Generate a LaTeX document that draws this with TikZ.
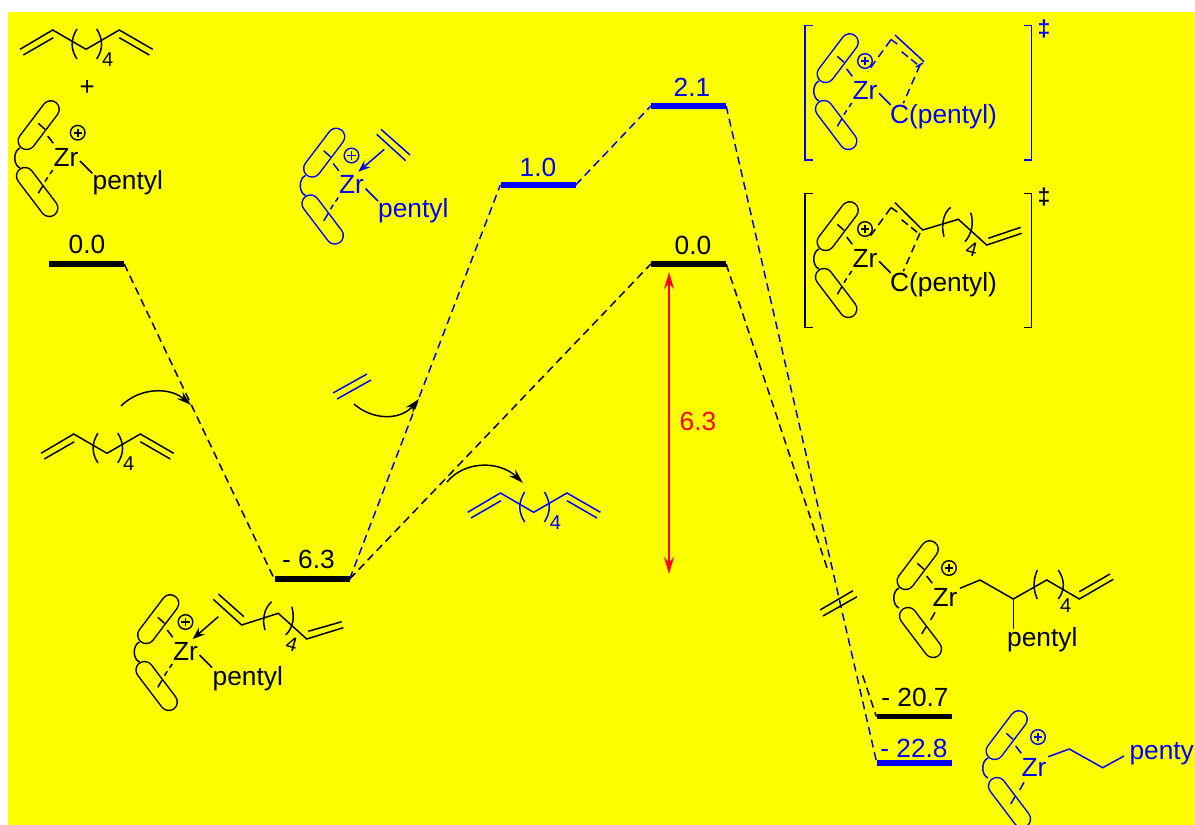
\documentclass[tikz,border=0pt]{standalone}
\usepackage{fontspec}
\setmainfont{Liberation Sans}
\usetikzlibrary{arrows.meta,calc}
\definecolor{bg}{RGB}{255,255,0}
\definecolor{bl}{RGB}{0,0,255}
\definecolor{rd}{RGB}{255,0,20}
\tikzset{
  bond/.style={line width=1.5pt,line join=miter},
  lab/.style={font=\fontsize{26.3}{30}\selectfont,inner sep=0pt,anchor=base},
  labw/.style={font=\fontsize{26.3}{30}\selectfont,inner sep=0pt,anchor=base west},
  sub/.style={font=\fontsize{20}{22}\selectfont,inner sep=0pt,anchor=base},
  level/.style={fill=#1,draw=none,inner sep=0pt,minimum width=75pt,minimum height=5.4pt},
  conn/.style={line width=1.5pt,dash pattern=on 8pt off 5pt},
  caps/.style={line width=1.5pt,line cap=round,double=bg,double distance=15.5pt},
  tip/.style={-{Stealth[length=12pt,width=9pt]}},
  curv/.style={line width=1.5pt,-{Stealth[length=15pt,width=9pt,inset=5pt]}},
  dag/.style={font=\bfseries\fontsize{23}{25}\selectfont,inner sep=0pt},
}
% name, x, y, colour, plus dx, plus dy
\newcommand{\zrunit}[6]{%
  \begin{scope}[shift={(#2,#3)},draw=#4,text=#4]
    \draw[bond] (-46,-8) .. controls (-53,-5) and (-53,9) .. (-46,12);
    \draw[caps] (-15.3,-46.7) -- (-39.3,-15);
    \draw[bond] (-27.7,-32.7) -- (-21,-26.7);
    \draw[bond] (-18.3,-20) -- (-12.7,-12.7);
    \node[lab] (#1) at (0,10) {Zr};
    \draw[#4,line width=1.4pt] (#5,#6) circle (7.3);
    \draw[#4,line width=1.9pt] ({#5-4.2},#6) -- ({#5+4.2},#6) ({#5},{#6-4.2}) -- ({#5},{#6+4.2});
  \end{scope}}
\newcommand{\lowerA}[3]{%
  \begin{scope}[shift={(#1,#2)},draw=#3]
    \draw[caps] (-41,20) -- (-16.7,52);
    \draw[bond] (-27.7,37.3) -- (-23.3,30);
    \draw[bond] (-21,25.7) -- (-18.3,21.3);
    \draw[bond] (-16,18) -- (-13.3,14);
  \end{scope}}
\newcommand{\lowerB}[3]{%
  \begin{scope}[shift={(#1,#2)},draw=#3]
    \draw[caps] (-37,20) -- (-12,53);
    \draw[bond] (-19,30.7) -- (-23.3,38);
    \draw[bond] (-10,16.3) -- (-14.3,24);
  \end{scope}}
% name, x, y, colour
\newcommand{\diene}[4]{%
  \begin{scope}[shift={(#2,#3)},draw=#4,text=#4]
    \draw[bond] (0,0) -- (32.7,-19.3) -- (66,0) -- (99.3,-19.3) -- (132.7,0);
    \draw[bond] (3.3,5.7) -- (33.3,-11.6);
    \draw[bond] (99.3,-11.6) -- (129.3,5.7);
    \draw[bond] (57,-20.3) .. controls (50.5,-10) and (50.5,0) .. (57,9.7);
    \draw[bond] (76.7,-20.3) .. controls (83.2,-10) and (83.2,0) .. (76.7,9.7);
    \node[sub] (#1) at (87.7,17) {4};
  \end{scope}}
\begin{document}
\begin{tikzpicture}[x=1pt,y=-1pt]
\useasboundingbox (0,0) rectangle (1195,825);
\clip (0,0) rectangle (1195,825);
\fill[white] (0,0) rectangle (1195,825);
\fill[bg] (8,12) rectangle (1195,825);

% levels
\node[level=black] (a0) at (86.5,264) {};
\node[level=black] (a1) at (312,579) {};
\node[level=bl] (b1) at (538,185) {};
\node[level=bl] (b2) at (688.5,106) {};
\node[level=black] (a2) at (688.5,264) {};
\node[level=black] (a3) at (914,716.5) {};
\node[level=bl] (b3) at (914.5,763) {};
\node[lab] (la0) at (87,253) {0.0};
\node[lab] (la1) at (308.5,568) {- 6.3};
\node[lab,text=bl] (lb1) at (538,176) {1.0};
\node[lab,text=bl] (lb2) at (692,96) {2.1};
\node[lab] (la2) at (693,254) {0.0};
\node[lab] (la3) at (915,706) {- 20.7};
\node[lab,text=bl] (lb3) at (914,757) {- 22.8};

% connectors
\draw[conn] (a0.east) -- (a1.west);
\draw[conn] (a1.east) -- (a2.west);
\draw[conn] (a2.east) -- ($(a2.east)!0.681!(a3.west)$);
\draw[conn] ($(a2.east)!0.909!(a3.west)$) -- (a3.west);
\draw[conn,bl] (a1.east) -- (b1.west);
\draw[conn,bl] (b1.east) -- (b2.west);
\draw[conn,bl] (b2.east) -- (b3.west);

% break mark
\draw[bond] (820,610) -- (853,590.7);
\draw[bond] (823,616) -- (857,596.7);

% red arrow
\coordinate (r1) at (669,272);
\coordinate (r2) at (669,574);
\draw[rd,line width=1.6pt,{Stealth[length=17pt,width=10pt]}-{Stealth[length=17pt,width=10pt]}] (r1) -- (r2);
\node[lab,text=rd] (l63) at (698,430) {6.3};

% curved arrows
\draw[curv] (121,406) .. controls (140,387) and (170,387) .. (191,405);
\draw[curv] (354,404) .. controls (372,420) and (400,421) .. (419,399);
\draw[curv] (447,482) .. controls (465,460) and (500,461) .. (523,483);

% top-left
\diene{d1}{20}{49.3}{black}
\node[font=\fontsize{26}{28}\selectfont,inner sep=0pt] (plus) at (87.3,88) {+};
\zrunit{z1}{66}{156}{black}{11.7}{-23.3}
\lowerA{66}{156}{black}
\draw[bond] (80,161) -- (92.3,173.3);
\node[labw] (p1) at (92.5,189) {pentyl};

% middle-left diene
\diene{d2}{41}{453.3}{black}

% ethylene blue
\draw[bond,bl] (333,393) -- (367,374);
\draw[bond,bl] (337,399) -- (371,380);

% blue diene
\diene{d3}{467.7}{512.3}{bl}

% middle blue complex
\zrunit{z2}{351.5}{183.5}{bl}{0}{-28}
\lowerA{351.5}{183.5}{bl}
\draw[bond,bl] (365.5,188.5) -- (378,201);
\node[labw,text=bl] (p2) at (378,217) {pentyl};
\draw[bond,bl] (381,129.3) -- (410,155);
\draw[bond,bl] (376.7,134.3) -- (405.7,160.7);
\draw[bond,bl,tip] (384.3,149.3) -- (358.3,171.7);

% bottom complex
\zrunit{z3}{185.5}{650}{black}{0}{-28}
\lowerA{185.5}{650}{black}
\draw[bond] (199.5,655) -- (212,667.5);
\node[labw] (p3) at (212.5,685) {pentyl};
\draw[bond,tip] (218.3,616.7) -- (192.7,639);
\draw[bond] (213.3,599.3) -- (241.7,625) -- (278.3,613.3) -- (306.7,639) -- (343.3,627.7);
\draw[bond] (218.3,594) -- (244,616.7);
\draw[bond] (308.3,631.3) -- (341.7,621.7);
\draw[bond] (271.7,601.7) .. controls (264,608) and (262,620) .. (265,630);
\draw[bond] (291.7,606.7) .. controls (295,617) and (293,628) .. (285.7,635);
\node[sub,rotate=-15] (n3) at (290,651) {4};

% TS blue
\draw[bl,line width=1.5pt] (812.7,25.7) -- (805,25.7) -- (805,160) -- (812.7,160);
\draw[bl,line width=1.5pt] (1024.3,25.7) -- (1031.7,25.7) -- (1031.7,160) -- (1024.3,160);
\node[dag,text=bl] (dg1) at (1044,29) {‡};
\zrunit{z4}{865}{89}{bl}{0}{-28}
\lowerA{865}{89}{bl}
\draw[bond,bl] (879,93.3) -- (890.7,105);
\node[labw,text=bl] (c1) at (890,123.3) {C(pentyl)};
\draw[bond,bl,dash pattern=on 8pt off 5pt] (890.7,40) -- (867.7,71.7);
\draw[bond,bl] (890.7,39.3) -- (897.3,44);
\draw[bond,bl] (895,35) -- (924,61.7);
\draw[bond,bl,dash pattern=on 8pt off 4pt] (901.7,51.7) -- (919.3,66);
\draw[bond,bl] (916,67) -- (923,63);
\draw[bond,bl,dash pattern=on 8pt off 5pt] (920,65) -- (903.3,103.3);

% TS black
\draw[line width=1.5pt] (812.7,193.3) -- (805,193.3) -- (805,327.7) -- (812.7,327.7);
\draw[line width=1.5pt] (1024.3,193.3) -- (1031.7,193.3) -- (1031.7,327.7) -- (1024.3,327.7);
\node[dag] (dg2) at (1044,197) {‡};
\zrunit{z5}{865}{257}{black}{0}{-28}
\lowerA{865}{257}{black}
\draw[bond] (879,261.3) -- (890.7,273);
\node[labw] (c2) at (890,291.3) {C(pentyl)};
\draw[bond,dash pattern=on 8pt off 5pt] (890.7,208) -- (867.7,239.7);
\draw[bond] (890.7,207.3) -- (897.3,212);
\draw[bond] (895,202.7) -- (922.7,230) -- (958.3,219.3) -- (986.7,245) -- (1021.7,233.3);
\draw[bond] (988.3,238.3) -- (1020.7,227.3);
\draw[bond,dash pattern=on 8pt off 4pt] (901.7,219.7) -- (919.3,234);
\draw[bond,dash pattern=on 8pt off 5pt] (920,233) -- (903.3,271.3);
\draw[bond] (950.7,207.3) .. controls (943,213) and (941,226) .. (944,236.7);
\draw[bond] (970.7,212.7) .. controls (974,222) and (972,234) .. (965,241.7);
\node[sub,rotate=-15] (n5) at (970,256) {4};

% product black
\zrunit{z6}{945}{596}{black}{4}{-28}
\lowerB{945}{596}{black}
\draw[bond] (960,588.3) -- (980,580) -- (1013.3,599) -- (1046.7,580) -- (1079.3,599) -- (1113.3,579.3);
\draw[bond] (1079.3,591.7) -- (1110,574);
\draw[bond] (1013.3,599) -- (1013.3,629.3);
\node[labw] (p6) at (1007,646.7) {pentyl};
\draw[bond] (1037.3,570) .. controls (1033,580) and (1033,590) .. (1037.3,599);
\draw[bond] (1058.3,570) .. controls (1065,580) and (1065,590) .. (1058.3,599);
\node[sub] (n6) at (1065.7,612) {4};

% product blue
\zrunit{z7}{1034}{766}{bl}{4}{-29}
\lowerB{1034}{766}{bl}
\draw[bond,bl] (1048.3,756.7) -- (1069.3,749) -- (1102.7,767.7) -- (1124,756);
\node[labw,text=bl] (p7) at (1129.3,759.3) {penty};
\end{tikzpicture}
\end{document}
